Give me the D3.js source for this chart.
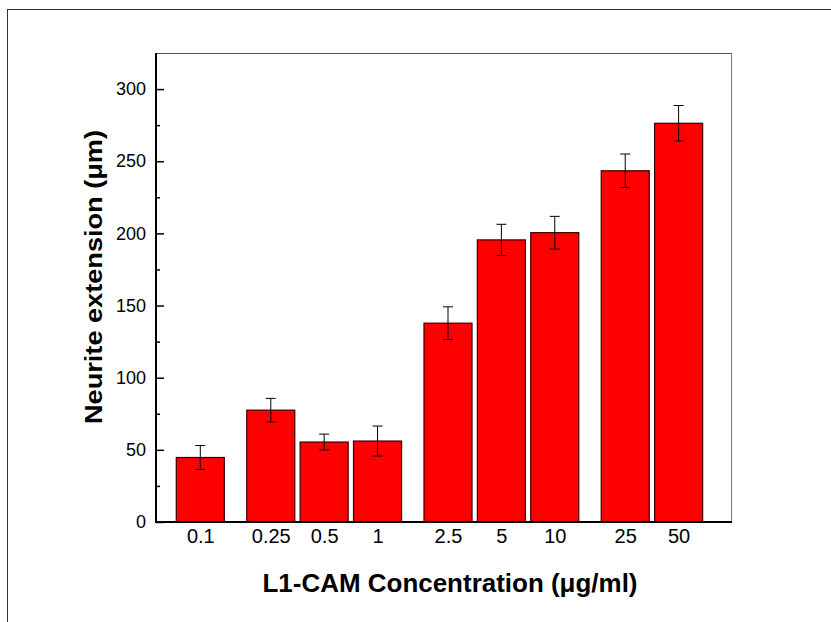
<!DOCTYPE html>
<html>
<head>
<meta charset="utf-8">
<script src="https://cdn.jsdelivr.net/npm/d3@7"></script>
<style>
  body { margin: 0; background: #fff; }
  svg text { font-family: "Liberation Sans", Arial, sans-serif; fill: #000; }
</style>
</head>
<body>
<div id="chart"></div>
<script>
// Neurite extension vs L1-CAM concentration, bars with SEM error bars.
const categories = ['0.1', '0.25', '0.5', '1', '2.5', '5', '10', '25', '50'];
// concentration groups - a wider gap is left between groups
const groups = [0, 1, 1, 1, 2, 2, 2, 3, 3];
const values = [44.7, 77.5, 55.4, 56.1, 137.8, 195.5, 200.5, 243.4, 276.3];
const errors = [8.3, 8.2, 5.5, 10.4, 11.3, 10.8, 11.3, 11.6, 12.3];
const yTicks = [0, 50, 100, 150, 200, 250, 300];
const yMinorTicks = [25, 75, 125, 175, 225, 275];

const W = 831, H = 622;
const m = { top: 53, right: 99, bottom: 100, left: 156 };
const innerW = W - m.left - m.right;
const innerH = H - m.top - m.bottom;
const groupGap = 0.32;   // extra slot space between groups
const barW = 0.9;        // bar width in slots

const svg = d3.select('#chart').append('svg').attr('width', W).attr('height', H);

// outer frame (only left and top edges fall inside the picture)
svg.append('rect')
  .attr('x', 7.5).attr('y', 9.5).attr('width', 900).attr('height', 700)
  .attr('fill', 'none').attr('stroke', '#333').attr('stroke-width', 1);

const g = svg.append('g').attr('transform', `translate(${m.left},${m.top})`);

const x = d3.scaleLinear().domain([-0.83, 9.96]).range([0, innerW]);
const y = d3.scaleLinear().domain([0, 325]).range([innerH, 0]);
const slot = i => i + groups[i] * groupGap;

// top / right frame lines of the plot box
g.append('line').attr('x1', 0).attr('x2', innerW).attr('y1', 0.5).attr('y2', 0.5)
  .attr('stroke', '#555').attr('stroke-width', 1);
g.append('line').attr('x1', innerW - 0.5).attr('x2', innerW - 0.5).attr('y1', 0).attr('y2', innerH)
  .attr('stroke', '#777').attr('stroke-width', 1);

// bars
const data = categories.map((c, i) => ({ c, v: values[i], e: errors[i], s: slot(i) }));
const bw = x(barW) - x(0);

g.selectAll('rect.bar')
  .data(data)
  .enter()
  .append('rect')
  .attr('class', 'bar')
  .attr('x', d => x(d.s) - bw / 2)
  .attr('y', d => y(d.v))
  .attr('width', bw)
  .attr('height', d => y(0) - y(d.v))
  .attr('fill', '#ff0000')
  .attr('stroke', '#3a0000')
  .attr('stroke-width', 1.2);

// error bars
const eb = g.selectAll('g.err').data(data).enter().append('g').attr('class', 'err')
  .attr('stroke', '#000').attr('stroke-width', 1);
eb.append('line')
  .attr('x1', d => x(d.s)).attr('x2', d => x(d.s))
  .attr('y1', d => y(d.v + d.e)).attr('y2', d => y(d.v - d.e));
eb.append('line')
  .attr('x1', d => x(d.s) - 5).attr('x2', d => x(d.s) + 5)
  .attr('y1', d => y(d.v + d.e)).attr('y2', d => y(d.v + d.e));
eb.append('line')
  .attr('x1', d => x(d.s) - 5).attr('x2', d => x(d.s) + 5)
  .attr('y1', d => y(d.v - d.e)).attr('y2', d => y(d.v - d.e));

// y axis: ticks point into the plot
const yAxis = g.append('g')
  .call(d3.axisLeft(y).tickValues(yTicks).tickSize(-8).tickPadding(10).tickSizeOuter(0));
yAxis.select('.domain').remove();
yAxis.selectAll('line').attr('stroke-width', 1.5);
yAxis.selectAll('text').style('font-size', '18px');

g.append('g')
  .call(d3.axisLeft(y).tickValues(yMinorTicks).tickSize(-4).tickFormat(''))
  .call(a => a.select('.domain').remove())
  .selectAll('line').attr('stroke-width', 1.5);

g.append('line').attr('x1', 0).attr('x2', 0).attr('y1', 0).attr('y2', innerH + 1)
  .attr('stroke', '#000').attr('stroke-width', 2);

// x axis
const xAxis = g.append('g').attr('transform', `translate(0,${innerH})`)
  .call(d3.axisBottom(x).tickValues(data.map(d => d.s)).tickFormat((d, i) => categories[i])
    .tickSize(0).tickPadding(7));
xAxis.select('.domain').remove();
xAxis.selectAll('text').style('font-size', '20px');

g.append('line').attr('x1', -1).attr('x2', innerW).attr('y1', innerH).attr('y2', innerH)
  .attr('stroke', '#000').attr('stroke-width', 2);

// axis titles
svg.append('text')
  .attr('x', 450).attr('y', 592)
  .attr('text-anchor', 'middle')
  .attr('textLength', 375).attr('lengthAdjust', 'spacingAndGlyphs')
  .style('font-size', '25px').style('font-weight', 'bold')
  .text('L1-CAM Concentration (μg/ml)');

svg.append('text')
  .attr('transform', 'translate(102,277) rotate(-90)')
  .attr('text-anchor', 'middle')
  .attr('textLength', 294).attr('lengthAdjust', 'spacingAndGlyphs')
  .style('font-size', '24px').style('font-weight', 'bold')
  .text('Neurite extension (μm)');
</script>
</body>
</html>
